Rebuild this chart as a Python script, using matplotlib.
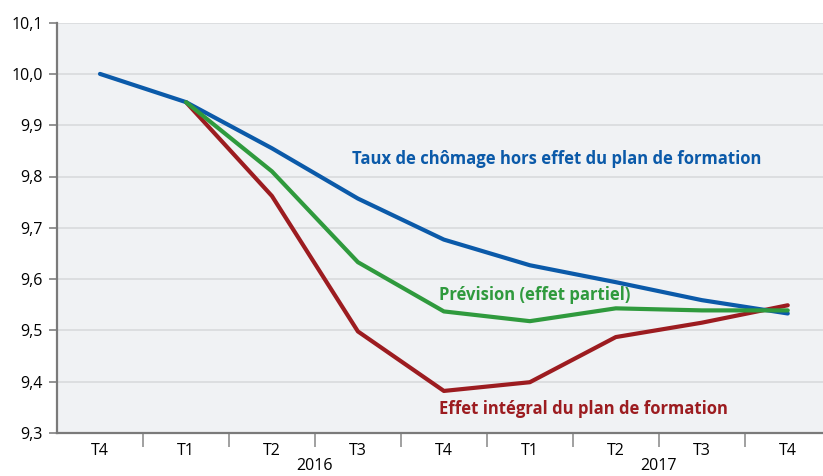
import matplotlib
matplotlib.use('Agg')
import matplotlib.pyplot as plt
import matplotlib.transforms as mtransforms

plt.rcParams['font.family'] = ['Open Sans', 'DejaVu Sans']

quarters = ['T4', 'T1', 'T2', 'T3', 'T4', 'T1', 'T2', 'T3', 'T4']
years = ['2016', '2017']
y_ticks = [9.3, 9.4, 9.5, 9.6, 9.7, 9.8, 9.9, 10.0, 10.1]

taux_hors_plan = [10.0, 9.945, 9.855, 9.757, 9.677, 9.627, 9.594, 9.559, 9.533]
prevision = [None, 9.945, 9.81, 9.633, 9.537, 9.518, 9.543, 9.539, 9.539]
effet_integral = [None, 9.945, 9.762, 9.498, 9.382, 9.399, 9.487, 9.515, 9.549]

blue = '#0b5aa9'
green = '#2f9a3d'
red = '#9c1c20'

fig = plt.figure(figsize=(8.23, 4.76), dpi=100)
ax = fig.add_axes([57 / 823, 43 / 476, 1 - 57 / 823, 410.4 / 476])
ax.set_facecolor('#f0f2f4')

x = list(range(len(quarters)))
ax.plot(x, taux_hors_plan, color=blue, lw=3, solid_capstyle='round', zorder=3)
ax.plot(x[1:], prevision[1:], color=green, lw=3, solid_capstyle='round', zorder=4)
ax.plot(x[1:], effet_integral[1:], color=red, lw=3, solid_capstyle='round', zorder=2)

ax.set_ylim(9.3, 10.1)
ax.set_xlim(-0.5, 8.41)
ax.set_yticks(y_ticks)
ax.set_yticklabels([f'{v:.1f}'.replace('.', ',') for v in y_ticks], fontsize=11.5)
ax.yaxis.grid(True, color='#d8dadd', lw=1.2)
ax.set_axisbelow(True)
ax.tick_params(axis='y', length=6, width=1.2, color='#808080', pad=4)

# quarter labels, with separators between the categories
ax.set_xticks(x)
ax.set_xticklabels(quarters, fontsize=11.5)
ax.tick_params(axis='x', which='major', length=0, pad=7)
ax.set_xticks([0.5, 1.5, 2.5, 3.5, 4.5, 5.5, 6.5, 7.5], minor=True)
ax.tick_params(axis='x', which='minor', length=10, width=1.2, color='#909090')
for t in ax.xaxis.get_minor_ticks():
    if t.get_loc() in (0.5, 4.5):
        t.tick1line.set_markersize(21.6)

trans = mtransforms.blended_transform_factory(ax.transData, ax.transAxes)
ax.text(2.5, -0.081, years[0], transform=trans, ha='center', va='center', fontsize=11.5)
ax.text(6.5, -0.081, years[1], transform=trans, ha='center', va='center', fontsize=11.5)

for side in ('top', 'right'):
    ax.spines[side].set_visible(False)
for side in ('left', 'bottom'):
    ax.spines[side].set_color('#7a7a7a')
    ax.spines[side].set_linewidth(1.6)

ax.text(2.93, 9.834, 'Taux de chômage hors effet du plan de formation', color=blue,
        fontsize=12, fontweight='bold', va='center', ha='left')
ax.text(3.94, 9.569, 'Prévision (effet partiel)', color=green,
        fontsize=12, fontweight='bold', va='center', ha='left')
ax.text(3.94, 9.347, 'Effet intégral du plan de formation', color=red,
        fontsize=12, fontweight='bold', va='center', ha='left')

fig.savefig('out.png', dpi=100)
